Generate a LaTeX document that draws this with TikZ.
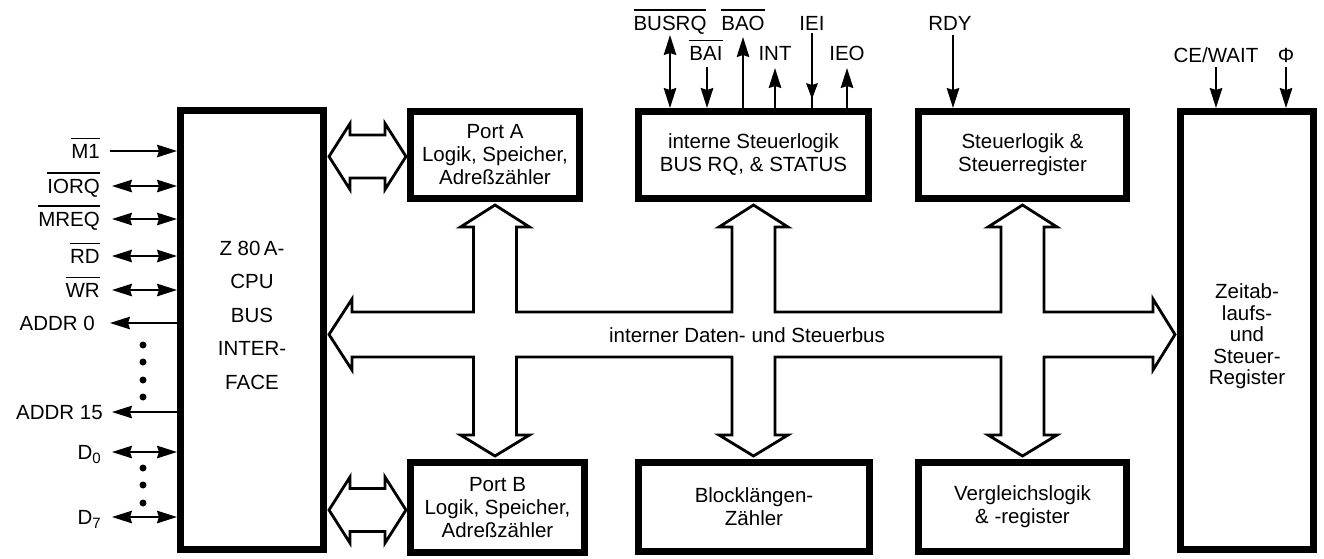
\documentclass[tikz,border=0pt]{standalone}
\usepackage{fontspec}
\setmainfont{Liberation Sans}
\usetikzlibrary{arrows.meta}
% active-low signal name with a bar over it
\newcommand{\ovbar}[1]{\vbox{\hrule height 1.8pt\kern 4.5pt\hbox{#1}}}
% data line D with a lowered index
\newcommand{\subd}[1]{D\raisebox{-4pt}{\fontsize{15}{15}\selectfont #1}}
\begin{document}
\begin{tikzpicture}[x=1pt,y=-1pt,
  >={Stealth[length=20pt,width=12.5pt,inset=2pt]},
  blk/.style={draw,line width=7pt,fill=white,align=center,inner sep=0pt,
              font=\fontsize{20.5}{23}\selectfont},
  sig/.style={line width=2pt},
  lbl/.style={inner sep=0pt,font=\fontsize{20.5}{23}\selectfont},
  fat/.style={line width=2.8pt,fill=white,line join=miter}]
\useasboundingbox (0,0) rectangle (1324,558);

% ---- blocks ----
\node[blk,minimum width=143pt,minimum height=439pt] (cpu) at (252,330) {};
\node[lbl,align=center,font=\fontsize{20.5}{33.5}\selectfont] (cputxt)
  at ([yshift=15pt]cpu.center) {Z 80\,A-\\CPU\\BUS\\INTER-\\FACE};
\node[blk,minimum width=169pt,minimum height=87pt] (pa) at (495,155)
  {Port A\\Logik, Speicher,\\Adreßzähler};
\node[blk,minimum width=230pt,minimum height=87pt] (ssl) at (753.5,155)
  {interne Steuerlogik\\BUS RQ, \& STATUS};
\node[blk,minimum width=208pt,minimum height=87pt] (sreg) at (1022.5,155)
  {Steuerlogik \&\\Steuerregister};
\node[blk,minimum width=133pt,minimum height=438pt] (zeit) at (1247,330.5) {};
\node[lbl,align=center,font=\fontsize{20.5}{21.5}\selectfont] (zeittxt)
  at ([yshift=-6pt]zeit.center) {Zeitab-\\laufs-\\und\\Steuer-\\Register};
\node[blk,minimum width=174pt,minimum height=90pt] (pb) at (497.5,507.5)
  {Port B\\Logik, Speicher,\\Adreßzähler};
\node[blk,minimum width=231pt,minimum height=89pt] (blz) at (754,507)
  {Blocklängen-\\Zähler};
\node[blk,minimum width=208pt,minimum height=89pt] (verg) at (1022.5,507)
  {Vergleichslogik\\\& -register};

% ---- internal bus with its branches ----
\def\xa{495}\def\xm{753.5}\def\xr{1022.5}
\draw[fat] (329,334.5) -- (352,299) -- (352,312)
  \foreach \c in {\xa,\xm,\xr}{
    -- ({\c-21.5},312) -- ({\c-21.5},227) -- ({\c-34.5},227) -- (\c,205)
    -- ({\c+34.5},227) -- ({\c+21.5},227) -- ({\c+21.5},312) }
  -- (1153,312) -- (1153,299) -- (1175,334.5) -- (1153,370) -- (1153,357)
  \foreach \c in {\xr,\xm,\xa}{
    -- ({\c+21.5},357) -- ({\c+21.5},435) -- ({\c+34.5},435) -- (\c,456)
    -- ({\c-34.5},435) -- ({\c-21.5},435) -- ({\c-21.5},357) }
  -- (352,357) -- (352,370) -- cycle;
\node[lbl] (busl) at (747,335) {interner Daten- und Steuerbus};

% ---- CPU <-> port buses ----
\foreach \yc in {156.5,510}
  \draw[fat] (329,\yc) -- (350,{\yc-33}) -- (350,{\yc-21.5}) -- (385,{\yc-21.5})
    -- (385,{\yc-33}) -- (406,\yc) -- (385,{\yc+33}) -- (385,{\yc+21.5})
    -- (350,{\yc+21.5}) -- (350,{\yc+33}) -- cycle;

% ---- CPU side signals ----
\node[lbl,anchor=base east] (m1) at (100,158) {\ovbar{M1}};
\coordinate (m1p) at (110,151);
\draw[sig,->] (m1p) -- (m1p -| cpu.west);
\node[lbl,anchor=base east] (iorq) at (100,193) {\ovbar{IORQ}};
\coordinate (iorqp) at (112,186);
\draw[sig,<->] (iorqp) -- (iorqp -| cpu.west);
\node[lbl,anchor=base east] (mreq) at (100,226) {\ovbar{MREQ}};
\coordinate (mreqp) at (112,219);
\draw[sig,<->] (mreqp) -- (mreqp -| cpu.west);
\node[lbl,anchor=base east] (rd) at (100,263) {\ovbar{RD}};
\coordinate (rdp) at (112,256);
\draw[sig,<->] (rdp) -- (rdp -| cpu.west);
\node[lbl,anchor=base east] (wr) at (100,297) {\ovbar{WR}};
\coordinate (wrp) at (112,290);
\draw[sig,<->] (wrp) -- (wrp -| cpu.west);
\node[lbl,anchor=base east] (a0) at (95,330) {ADDR 0};
\coordinate (a0p) at (110,323);
\draw[sig,<-] (a0p) -- (a0p -| cpu.west);
\node[lbl,anchor=base east] (a15) at (103,419) {ADDR 15};
\coordinate (a15p) at (112,412);
\draw[sig,<-] (a15p) -- (a15p -| cpu.west);
\node[lbl,anchor=base east] (d0) at (101,459) {\subd{0}};
\coordinate (d0p) at (112,452);
\draw[sig,<->] (d0p) -- (d0p -| cpu.west);
\node[lbl,anchor=base east] (d7) at (101,524) {\subd{7}};
\coordinate (d7p) at (112,517);
\draw[sig,<->] (d7p) -- (d7p -| cpu.west);
\foreach \y in {345,362,380,397,468,485,503}
  \fill (143,\y) circle (3.5pt);

% ---- control signals on top ----
\node[lbl,anchor=base] (busrq) at (670,30) {\ovbar{BUSRQ}};
\coordinate (busrqp) at (670,35);
\draw[sig,<->] (busrqp) -- (busrqp |- ssl.north);
\node[lbl,anchor=base] (bai) at (706,60) {\ovbar{BAI}};
\coordinate (baip) at (707,67);
\draw[sig,->] (baip) -- (baip |- ssl.north);
\node[lbl,anchor=base] (bao) at (743,30) {\ovbar{BAO}};
\coordinate (baop) at (743,37);
\draw[sig,<-] (baop) -- (baop |- ssl.north);
\node[lbl,anchor=base] (int) at (775,60) {INT};
\coordinate (intp) at (775,68);
\draw[sig,<-] (intp) -- (intp |- ssl.north);
\node[lbl,anchor=base] (iei) at (812,30) {IEI};
\coordinate (ieip) at (812,33);
\draw[sig] (ieip) -- (ieip |- ssl.north);
% input arrowhead on the IEI line, just above the block
\fill (ieip) ++(-6,50) -- ++(6,2) -- ++(6,-2) -- (812,99) -- cycle;
\node[lbl,anchor=base] (ieo) at (847,60) {IEO};
\coordinate (ieop) at (847,68);
\draw[sig,<-] (ieop) -- (ieop |- ssl.north);
\node[lbl,anchor=base] (rdy) at (950,30) {RDY};
\coordinate (rdyp) at (953,35);
\draw[sig,->] (rdyp) -- (rdyp |- sreg.north);
\node[lbl,anchor=base] (ce) at (1216,62) {CE/WAIT};
\coordinate (cep) at (1216,67);
\draw[sig,->] (cep) -- (cep |- zeit.north);
\node[lbl,anchor=base] (phi) at (1286,62) {Φ};
\coordinate (phip) at (1286,67);
\draw[sig,->] (phip) -- (phip |- zeit.north);
\end{tikzpicture}
\end{document}
